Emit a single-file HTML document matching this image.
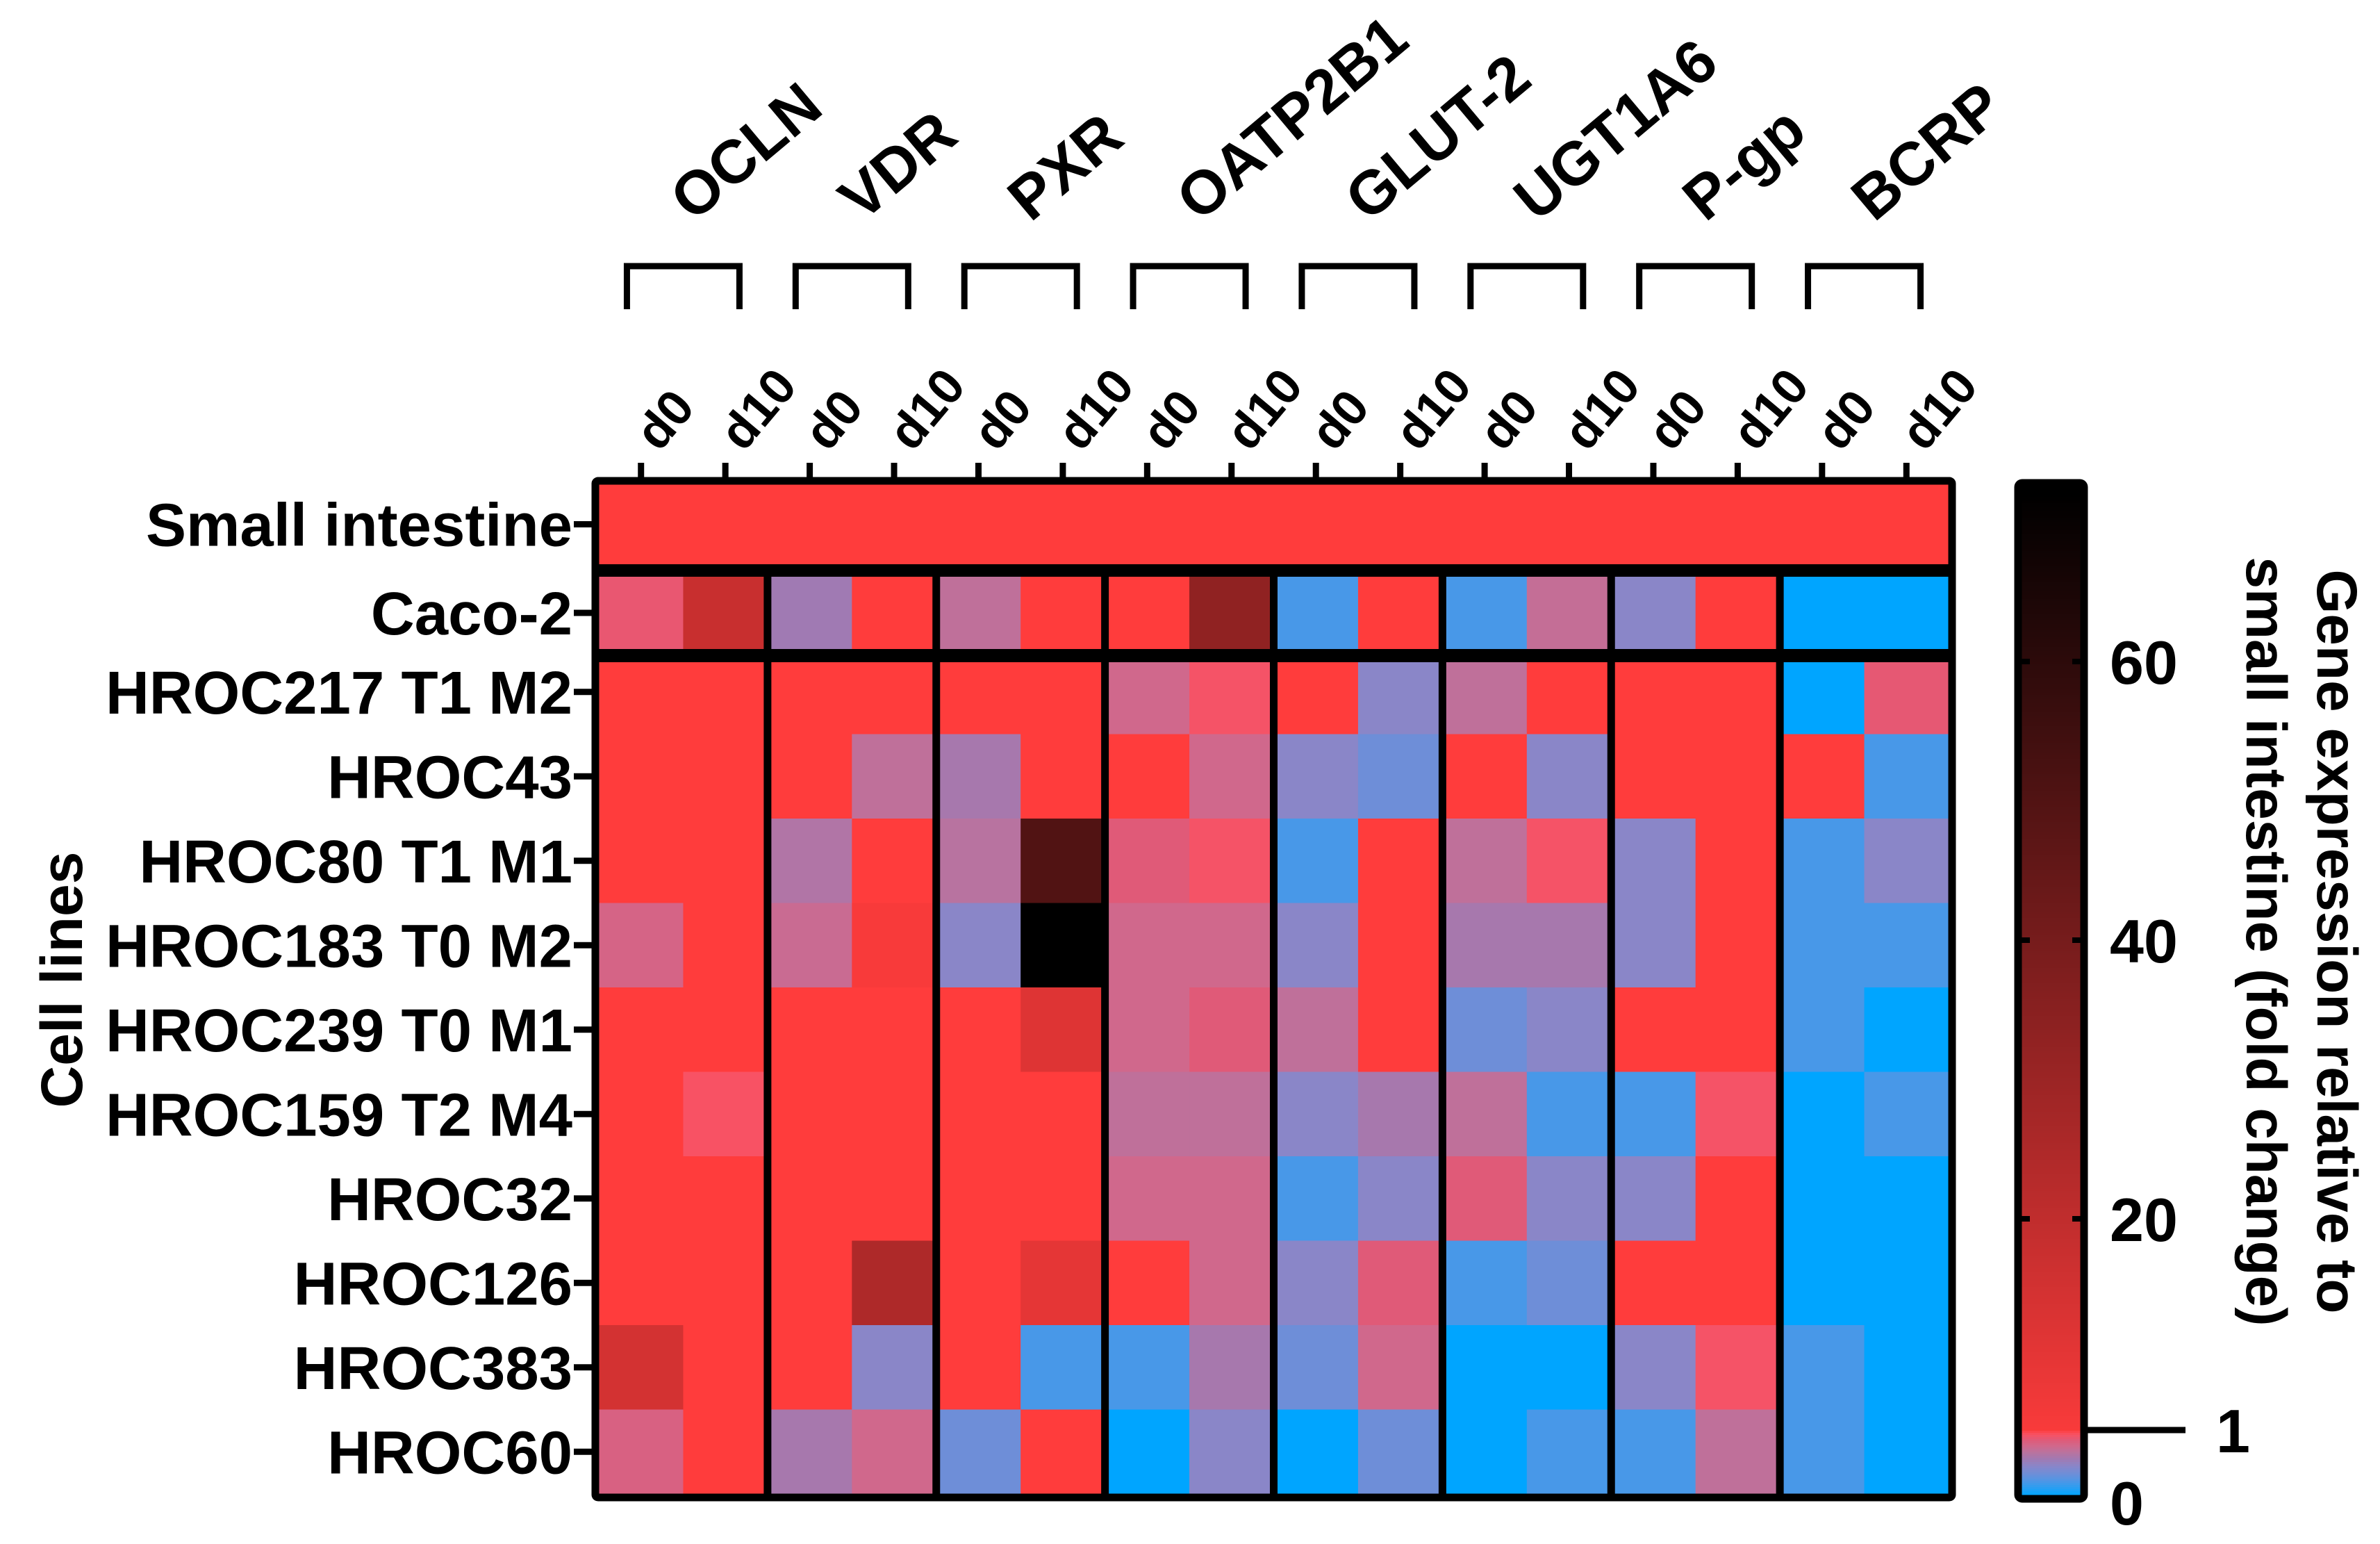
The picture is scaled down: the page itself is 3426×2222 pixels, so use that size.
<!DOCTYPE html>
<html><head><meta charset="utf-8"><style>
html,body{margin:0;padding:0;background:#fff;}
svg{display:block;font-family:"Liberation Sans",Arial,sans-serif;font-weight:bold;}
</style></head><body>
<svg id="chart" width="3426" height="2222" viewBox="0 0 3426 2222" xmlns="http://www.w3.org/2000/svg">
<g id="cells"></g>
<g id="lines"></g>
<g id="labels"></g>
<g id="cbar"></g>
</svg>
<script>
const genes = ["OCLN","VDR","PXR","OATP2B1","GLUT-2","UGT1A6","P-gp","BCRP"];
const days = ["d0","d10"];
const rowLabels = ["Small intestine","Caco-2","HROC217 T1 M2","HROC43","HROC80 T1 M1","HROC183 T0 M2","HROC239 T0 M1","HROC159 T2 M4","HROC32","HROC126","HROC383","HROC60"];
const rowSmallIntestine = [1,1,1,1,1,1,1,1,1,1,1,1,1,1,1,1];
const rowCaco2   = [0.88,18, 0.55,2, 0.68,2, 2,33, 0.2,2, 0.2,0.7, 0.45,2, 0,0];
const rowHROC217 = [2,2, 2,2, 2,2, 0.75,0.92, 2,0.45, 0.68,2, 2,2, 0,0.87];
const rowHROC43  = [2,2, 2,0.68, 0.58,2, 2,0.75, 0.45,0.33, 2,0.45, 2,2, 2,0.2];
const rowHROC80  = [2,2, 0.62,2, 0.65,50, 0.85,0.92, 0.2,2, 0.68,0.92, 0.45,2, 0.2,0.45];
const rowHROC183 = [0.78,2, 0.72,5, 0.45,72, 0.75,0.75, 0.45,2, 0.58,0.58, 0.45,2, 0.2,0.2];
const rowHROC239 = [1,2, 2,2, 2,12, 0.75,0.85, 0.68,2, 0.33,0.45, 2,2, 0.2,0];
const rowHROC159 = [2,0.93, 2,2, 2,2, 0.68,0.68, 0.45,0.58, 0.68,0.2, 0.2,0.92, 0,0.2];
const rowHROC32  = [2,2, 2,2, 2,3, 0.75,0.75, 0.2,0.45, 0.85,0.45, 0.45,2, 0,0];
const rowHROC126 = [2,2, 2,25, 2,10, 2,0.75, 0.45,0.85, 0.2,0.33, 2,2, 0,0];
const rowHROC383 = [15,2, 2,0.45, 2,0.2, 0.2,0.58, 0.33,0.75, 0,0, 0.45,0.92, 0.2,0];
const rowHROC60  = [0.8,2, 0.58,0.75, 0.33,2, 0,0.45, 0,0.33, 0,0.2, 0.2,0.68, 0.2,0];
const cbarTicks = [0,1,20,40,60];

const rowsData=[rowSmallIntestine,rowCaco2,rowHROC217,rowHROC43,rowHROC80,rowHROC183,rowHROC239,rowHROC159,rowHROC32,rowHROC126,rowHROC383,rowHROC60];
const NS="http://www.w3.org/2000/svg";
function mk(tag,attrs,parent){const e=document.createElementNS(NS,tag);for(const k in attrs)e.setAttribute(k,attrs[k]);parent.appendChild(e);return e;}
const lowStops=[[0,[0,165,255]],[0.2,[72,152,232]],[0.33,[110,142,216]],[0.45,[138,134,200]],[0.55,[160,122,179]],[0.65,[184,115,160]],[0.75,[208,104,140]],[0.85,[224,90,120]],[0.93,[248,82,100]],[1,[255,60,60]]];
function color(v){
  let c;
  if(v<=1){
    for(let i=1;i<lowStops.length;i++){if(v<=lowStops[i][0]){const a=lowStops[i-1],b=lowStops[i];const t=(v-a[0])/(b[0]-a[0]);c=a[1].map((x,j)=>x+(b[1][j]-x)*t);break;}}
    if(!c)c=lowStops[0][1];
  } else {
    const t=Math.max(0,Math.min(1,(v-3)/69));
    c=[255,60,60].map(x=>x*(1-t));
  }
  return "rgb("+c.map(x=>Math.round(x)).join(",")+")";
}
const X0=862,X1=2805,NC=16,CW=(X1-X0)/NC;
function xCol(i){return X0+i*CW;}
const rowTop=[697,830],rowH=[115,104];
const RH=121.5,R0=2150-10*RH;
function yRow(r){return r<2?rowTop[r]:R0+(r-2)*RH;}
function hRow(r){return r<2?rowH[r]:RH;}
const cells=document.getElementById('cells');
rowsData.forEach((row,r)=>{
  row.forEach((v,c)=>{
    const e=mk('rect',{x:xCol(c),y:yRow(r),width:CW+0.6,height:hRow(r)+0.6,fill:color(v)},cells);
    
    
  });
});
const lines=document.getElementById('lines');
for(let g=1;g<8;g++){const x=xCol(g*2);const l=mk('line',{x1:x,y1:830,x2:x,y2:2150,stroke:'#000','stroke-width':11},lines);}
[[812,830],[934,953]].forEach(b=>{const r=mk('rect',{x:X0,y:b[0],width:X1-X0,height:b[1]-b[0],fill:'#000'},lines);});
const fr=mk('rect',{x:857,y:692,width:X1-X0+10,height:2155-692,fill:'none',stroke:'#000','stroke-width':11,rx:4},lines);

const labels=document.getElementById('labels');
for(let c=0;c<NC;c++){
  const cx=xCol(c)+CW/2;
  const t=mk('line',{x1:cx,y1:666,x2:cx,y2:692,stroke:'#000','stroke-width':9},lines);
  
  const d=mk('text',{x:0,y:0,'font-size':72,transform:`translate(${cx+26},652) rotate(-50)`},labels);
  d.textContent=days[c%2];
  
}
genes.forEach((g,i)=>{
  const gc=xCol(2*i+1);
  const p=mk('path',{d:`M${gc-81},445 V383 H${gc+81} V445`,fill:'none',stroke:'#000','stroke-width':9},lines);
  
  const t=mk('text',{x:0,y:0,'font-size':88,transform:`translate(${gc+14},321) rotate(-40)`},labels);
  t.textContent=g;
  
});
rowLabels.forEach((n,r)=>{
  const cy=yRow(r)+hRow(r)/2;
  const t=mk('text',{x:824,y:cy+31,'font-size':87,'text-anchor':'end'},labels);
  t.textContent=n;
  
  const k=mk('line',{x1:826,y1:cy,x2:855,y2:cy,stroke:'#000','stroke-width':9},lines);
  
});
const cl=mk('text',{x:0,y:0,'font-size':84,'text-anchor':'middle',transform:'translate(118,1410) rotate(-90)'},labels);
cl.textContent='Cell lines';
const cb=document.getElementById('cbar');
const CB0=2908,CB1=2997,CBT=700,CBB=2152,Y1=2058;
function yCbar(v){ if(v<=1) return CBB-(CBB-Y1)*v; return Math.min(Y1,2155-20.05*v); }
function vAtY(y){ if(y>=Y1) return (CBB-y)/(CBB-Y1); return Math.max(1,(2155-y)/20.05); }
for(let y=CBT;y<CBB;y+=3){const r=mk('rect',{x:CB0,y:y,width:CB1-CB0,height:3.5,fill:color(vAtY(y+1.5))},cb);}
const cbf=mk('rect',{x:CB0-3,y:CBT-5,width:CB1-CB0+6,height:CBB-CBT+10,fill:'none',stroke:'#000','stroke-width':11,rx:6},cb);

cbarTicks.forEach(v=>{
  const y=yCbar(v);
  if(v===1){
    const l=mk('line',{x1:CB1,y1:y,x2:3146,y2:y,stroke:'#000','stroke-width':9},cb);
    
    const t=mk('text',{x:3190,y:y+32,'font-size':88},cb);t.textContent='1';
    
  } else if(v===0){
    const t=mk('text',{x:3037,y:y+42,'font-size':88},cb);t.textContent='0';
    
  } else {
    const a=mk('line',{x1:CB0-3,y1:y,x2:CB0+14,y2:y,stroke:'#000','stroke-width':8},cb);
    
    const b=mk('line',{x1:CB1-14,y1:y,x2:CB1+3,y2:y,stroke:'#000','stroke-width':8},cb);
    
    const t=mk('text',{x:3037,y:y+32,'font-size':88},cb);t.textContent=String(v);
    
  }
});
const ct1=mk('text',{x:0,y:0,'font-size':82,'text-anchor':'middle',transform:'translate(3336,1355) rotate(90)'},cb);
ct1.textContent='Gene expression relative to';
const ct2=mk('text',{x:0,y:0,'font-size':82,'text-anchor':'middle',transform:'translate(3234,1355) rotate(90)'},cb);
ct2.textContent='small intestine (fold change)';
</script>
</body></html>
